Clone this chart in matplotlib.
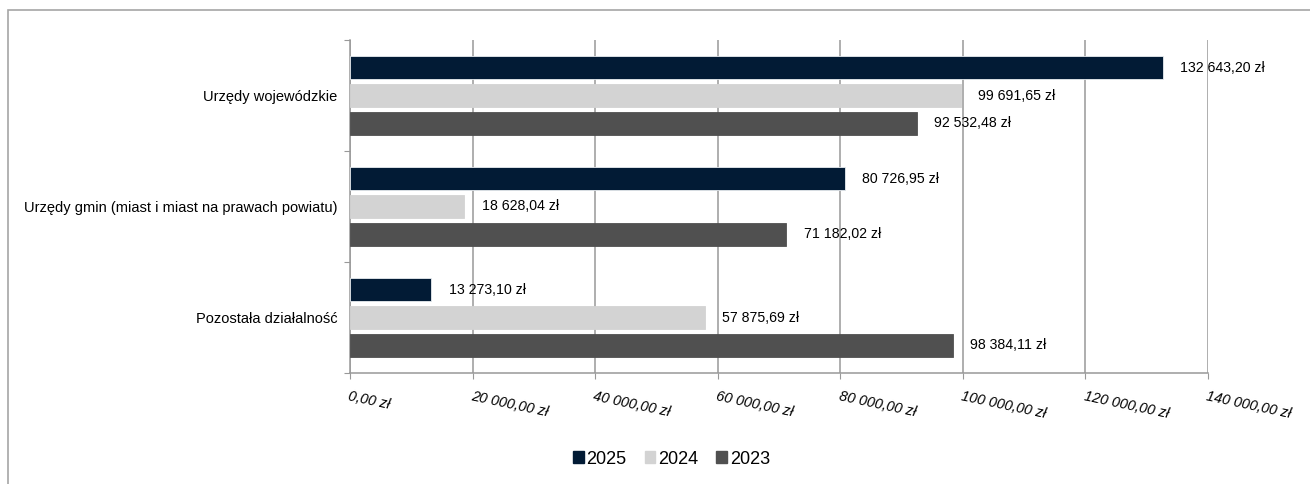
import matplotlib
matplotlib.use("Agg")
import matplotlib.pyplot as plt
from matplotlib.patches import Patch, Rectangle
import numpy as np

plt.rcParams['font.family'] = ['Liberation Sans', 'DejaVu Sans']

categories = ["Urzędy wojewódzkie",
              "Urzędy gmin (miast i miast na prawach powiatu)",
              "Pozostała działalność"]
series_names = ["2025", "2024", "2023"]
values_2025 = [132643.20, 80726.95, 13273.10]
values_2024 = [99691.65, 18628.04, 57875.69]
values_2023 = [92532.48, 71182.02, 98384.11]
x_ticks = [0, 20000, 40000, 60000, 80000, 100000, 120000, 140000]
colors = ["#021B35", "#D3D3D3", "#505050"]


def fmt(v):
    s = f"{v:,.2f}"
    s = s.replace(",", " ").replace(".", ",")
    return s + " zł"


W, H = 1310, 484
fig = plt.figure(figsize=(W / 100, H / 100), dpi=100)
fig.patch.set_facecolor("white")
# outer border (only top/left visible in reference)
fig.add_artist(Rectangle((7.5 / W, -0.1), 1.2, 1.1 - 10.5 / H,
                         transform=fig.transFigure, fill=False,
                         edgecolor="#A6A6A6", linewidth=1.2))

ax = fig.add_axes([350 / W, (H - 373) / H, (1208 - 350) / W, (373 - 40) / H])

all_vals = [values_2025, values_2024, values_2023]
offsets = [-0.252, 0.0, 0.252]
ypos = np.arange(len(categories))
for vals, off, col, name in zip(all_vals, offsets, colors, series_names):
    bars = ax.barh(ypos + off, vals, height=0.2, color=col, label=name,
                   edgecolor="#E8ECF0" if col == "#021B35" else col,
                   linewidth=0.6, zorder=3)
    for b, v in zip(bars, vals):
        ax.annotate(fmt(v), (b.get_width(), b.get_y() + b.get_height() / 2),
                    xytext=(12.5, 0), textcoords="offset points",
                    ha="left", va="center", fontsize=10.2, color="black",
                    zorder=5)

ax.set_xlim(0, 140000)
ax.set_ylim(2.5, -0.5)
ax.set_xticks(x_ticks)
ax.set_xticklabels([fmt(t) for t in x_ticks], rotation=-12, ha="left",
                   va="top", rotation_mode="anchor", fontsize=10.4,
                   style="italic")
ax.tick_params(axis="x", length=4, color="#999999", pad=8)

ax.set_yticks([-0.5, 0.5, 1.5, 2.5])
ax.set_yticklabels([])
ax.tick_params(axis="y", which="major", length=4, color="#999999")
ax.set_yticks(ypos, minor=True)
ax.set_yticklabels(categories, minor=True, fontsize=10.5)
ax.tick_params(axis="y", which="minor", length=0, pad=9)

ax.grid(axis="x", color="#999999", linewidth=1.1, zorder=0)
ax.set_axisbelow(True)
for s in ["top", "right"]:
    ax.spines[s].set_visible(False)
for s in ["left", "bottom"]:
    ax.spines[s].set_color("#999999")
    ax.spines[s].set_linewidth(1.1)

handles = [Patch(facecolor=c, edgecolor=c) for c in colors]
fig.legend(handles, series_names, loc="center",
           bbox_to_anchor=(671.5 / W, (H - 459) / H),
           ncol=3, frameon=False, fontsize=13, handlelength=0.6,
           handleheight=0.6, handletextpad=0.15, columnspacing=1.0)

fig.savefig("out.png", dpi=100, facecolor="white")
